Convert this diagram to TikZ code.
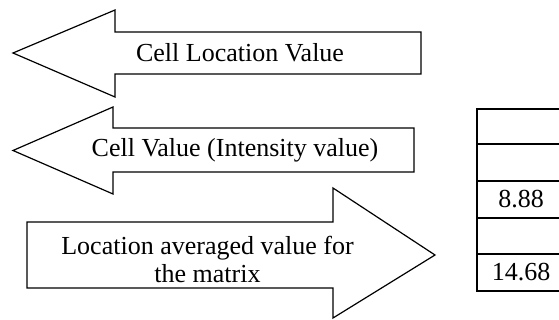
\documentclass[tikz,border=0pt]{standalone}
\usepackage{fontspec}
\setmainfont{Liberation Serif}
\begin{document}
\begin{tikzpicture}[x=1pt,y=-1pt,
  blockarrow/.style={draw=black,line width=1.2pt,line join=miter,fill=white},
  cellgrid/.style={draw=black,line width=2pt},
  lbl/.style={inner sep=0pt,font=\fontsize{26}{28}\selectfont,align=center}]
\useasboundingbox (0,0) rectangle (559,320);
\fill[white] (0,0) rectangle (559,320);

% left-pointing arrow: cell location
\draw[blockarrow] (13,53) -- (115,10) -- (115,32) -- (421,32) -- (421,74)
  -- (115,74) -- (115,97) -- cycle;
\node[lbl] (loc) at (240,53) {Cell Location Value};

% left-pointing arrow: cell value
\draw[blockarrow] (13,150.5) -- (113,107) -- (113,128) -- (414,128) -- (414,172)
  -- (113,172) -- (113,194) -- cycle;
\node[lbl] (val) at (235,150) {Cell Value (Intensity value)};

% right-pointing arrow: averaged value
\draw[blockarrow] (27,222) -- (333,222) -- (333,188) -- (435,255) -- (333,318)
  -- (333,288) -- (27,288) -- cycle;
\node[lbl] (avg) at (207.5,259) {Location averaged value for\\the matrix};

% column of the matrix
\draw[cellgrid] (565,109) -- (477,109) -- (477,291) -- (565,291);
\foreach \y in {144,181,218,254} \draw[cellgrid] (477,\y) -- (565,\y);
\node[lbl] (c3) at (521,199.5) {8.88};
\node[lbl] (c5) at (521,272.5) {14.68};
\end{tikzpicture}
\end{document}
